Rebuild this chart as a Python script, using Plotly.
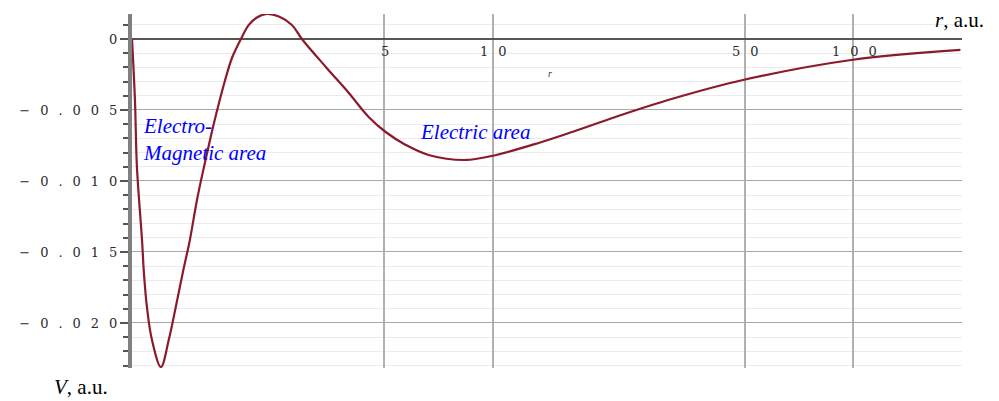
import numpy as np
import plotly.graph_objects as go

# potential curve (r in a.u., V in a.u.)
r_vals = [1.0, 1.019, 1.032, 1.066, 1.080, 1.100, 1.136, 1.203, 1.266, 1.324,
          1.384, 1.447, 1.514, 1.583, 1.655, 1.731, 1.809, 1.893, 2.004, 2.108,
          2.220, 2.365, 2.554, 2.775, 2.958, 3.465, 3.991, 4.53, 5.05, 5.74,
          6.64, 8.42, 9.94, 13.4, 16.6, 21.9, 31.3, 49.4, 98.6, 198.0]
v_vals = [0.0, -0.0043, -0.00901, -0.01415, -0.01662, -0.01887, -0.0212, -0.0231,
          -0.02113, -0.0188, -0.01641, -0.01415, -0.01134, -0.00901, -0.00683,
          -0.00479, -0.00296, -0.00134, 0.0, 0.00099, 0.00151, 0.00176, 0.00158,
          0.00099, 0.0, -0.00204, -0.0038, -0.00549, -0.00655, -0.00746, -0.00817,
          -0.00852, -0.00824, -0.00732, -0.00655, -0.00549, -0.00423, -0.00289,
          -0.00148, -0.00077]

x_ticks = [5, 10, 50, 100]
y_major = [0, -0.005, -0.010, -0.015, -0.020]
y_labels = ["0", "\u22120.005", "\u22120.010", "\u22120.015", "\u22120.020"]

# the page body adds an 8px margin, so the figure is drawn 8px right/down
OFF = 8
W, H = 999, 401
left, top, pw, ph = 132, 14, 830, 354   # plot area on screen
L, T = left - OFF, top - OFF
R, B = W - L - pw, H - T - ph


def px_x(p):
    return (p - left) / pw


def px_y(p):
    return (top + ph - p) / ph


def wide(s):
    # stretched look of the original tick labels
    if len(s) < 2:
        return s
    return '<span style="letter-spacing:10px">' + s[:-1] + '</span>' + s[-1]


fig = go.Figure()
fig.add_trace(go.Scatter(x=r_vals, y=v_vals, mode='lines',
                         line=dict(color='#8b1a2a', width=2.2, shape='spline', smoothing=1.0),
                         hoverinfo='skip', showlegend=False))

tick_font = dict(family='DejaVu Serif', size=13, color='#2a2a2a')

fig.update_layout(
    width=W, height=H,
    margin=dict(l=L, r=R, t=T, b=B, autoexpand=False),
    plot_bgcolor='white', paper_bgcolor='white',
    font=dict(family='Liberation Serif', color='black'),
)

fig.update_xaxes(
    type='log', range=[0, np.log10(200)],
    tickvals=x_ticks, showticklabels=False, ticks='',
    showgrid=True, gridcolor='#b0b0b0', gridwidth=2,
    zeroline=False, showline=False, automargin=False)

fig.update_yaxes(
    range=[-0.02317, 0.00176], automargin=False,
    tickvals=y_major, ticktext=[wide(s) for s in y_labels],
    tickfont=tick_font,
    ticks='outside', ticklen=8, tickwidth=1.5, tickcolor='#555555',
    showgrid=True, gridcolor='#a8a8a8', gridwidth=1,
    minor=dict(dtick=0.001, tick0=0, ticks='outside', ticklen=5, tickwidth=1.5,
               tickcolor='#555555', showgrid=True, gridcolor='#ebebeb', gridwidth=1),
    zeroline=True, zerolinecolor='#555555', zerolinewidth=1.5,
    showline=True, linecolor='#808080', linewidth=4, mirror=False)

# x tick labels sit just under the r axis (V = 0)
for t in x_ticks:
    fig.add_annotation(x=np.log10(t), y=0, xref='x', yref='y', yshift=-13, xshift=1,
                       text=wide(str(t)), showarrow=False, font=tick_font)

fig.add_annotation(x=px_x(550), y=px_y(66), xref='paper', yref='paper',
                   text='<i>r</i>', showarrow=False,
                   font=dict(family='Liberation Serif', size=10, color='#333333'))

fig.add_annotation(x=px_x(986), y=px_y(20), xref='paper', yref='paper',
                   xanchor='right', yanchor='middle', text='<i>r</i>, a.u.',
                   showarrow=False, font=dict(family='Liberation Serif', size=21, color='black'))
fig.add_annotation(x=px_x(52), y=px_y(387), xref='paper', yref='paper',
                   xanchor='left', yanchor='middle', text='<i>V</i>, a.u.',
                   showarrow=False, font=dict(family='Liberation Serif', size=21, color='black'))

blue = dict(family='Liberation Serif', size=21, color='#0000ff')
fig.add_annotation(x=px_x(141), y=px_y(112), xref='paper', yref='paper',
                   xanchor='left', yanchor='top', align='left',
                   text='<i>Electro-<br>Magnetic area</i>', showarrow=False, font=blue)
fig.add_annotation(x=px_x(418), y=px_y(132), xref='paper', yref='paper',
                   xanchor='left', yanchor='middle',
                   text='<i>Electric area</i>', showarrow=False, font=blue)

fig.write_html("out.html")
